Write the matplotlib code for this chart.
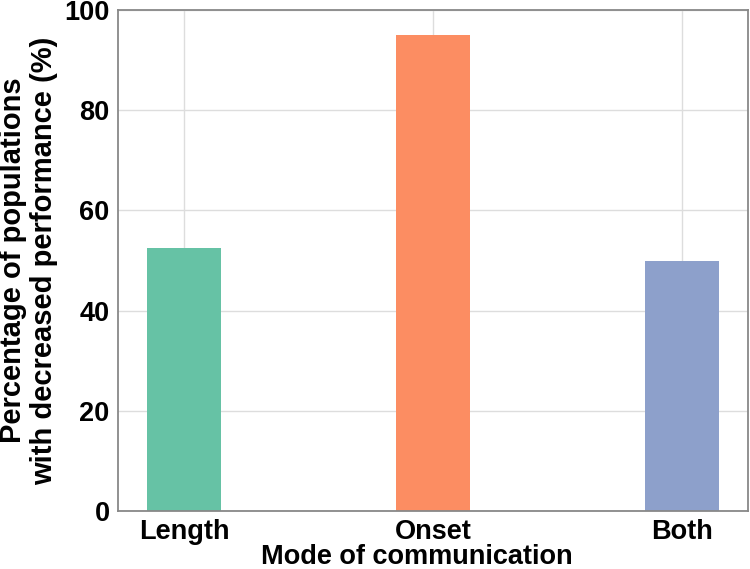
import matplotlib
matplotlib.use("Agg")
import matplotlib.pyplot as plt

categories = ["Length", "Onset", "Both"]
values = [52.5, 95.0, 50.0]
colors = ["#66c2a5", "#fc8d62", "#8da0cb"]
yticks = [0, 20, 40, 60, 80, 100]

plt.rcParams['font.family'] = ['Liberation Sans', 'DejaVu Sans']
plt.rcParams['font.weight'] = 'bold'

fig = plt.figure(figsize=(7.5, 5.69), dpi=100)
ax = fig.add_axes([118/750, 1 - 511/569, (748-118)/750, (511-10)/569])
ax.set_axisbelow(True)
ax.grid(True, color="#dddddd", linewidth=1.0)
ax.bar(range(len(categories)), values, width=0.3, color=colors)
ax.set_ylim(0, 100)
ax.set_yticks(yticks)
ax.set_xticks(range(len(categories)))
ax.set_xticklabels(categories)
ax.tick_params(axis='both', labelsize=19.5, length=0, pad=6)
for lab in ax.get_xticklabels() + ax.get_yticklabels():
    lab.set_fontweight('bold')
for s in ax.spines.values():
    s.set_color("#888888")
    s.set_linewidth(1.3)
ax.set_xlabel("Mode of communication", fontsize=19.5, fontweight='bold')
ax.xaxis.set_label_coords(0.475, -0.066)
ax.set_ylabel("Percentage of populations\nwith decreased performance (%)", fontsize=21, fontweight='bold', linespacing=1.15)
ax.yaxis.set_label_coords(-0.095, 0.5)
fig.savefig("out.png", dpi=100)
